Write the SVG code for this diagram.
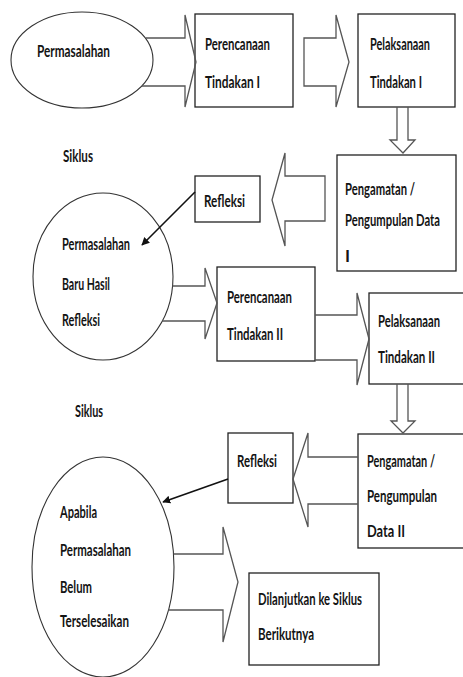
<svg xmlns="http://www.w3.org/2000/svg" width="463" height="677" viewBox="0 0 463 677">
<style>
.bg{fill:#fff}
.box{fill:#fff;stroke:#222;stroke-width:1.3}
.ell{fill:#fff;stroke:#333;stroke-width:1.1}
.blk{fill:none;stroke:#555;stroke-width:1.3;stroke-linejoin:miter}
.ln{fill:none;stroke:#111;stroke-width:1.6}
text{font-family:Lato,"Open Sans","Liberation Sans",sans-serif;font-size:17px;font-weight:700;fill:#141414}
</style>
<defs>
<marker id="ah" viewBox="0 0 10 10" refX="9" refY="5" markerWidth="5" markerHeight="5" orient="auto" markerUnits="strokeWidth">
<path d="M0,0 L10,5 L0,10 z" fill="#111"/>
</marker>
</defs>
<rect class="bg" x="0" y="0" width="463" height="677"/>

<g id="permasalahan">
<ellipse class="ell" cx="82" cy="60" rx="71" ry="48"/>
<text x="37" y="57" textLength="73" lengthAdjust="spacingAndGlyphs">Permasalahan</text>
</g>

<g id="perencanaan1">
<rect class="box" x="195" y="14" width="98" height="93"/>
<text x="205" y="50" textLength="65" lengthAdjust="spacingAndGlyphs">Perencanaan</text>
<text x="205" y="88" textLength="55" lengthAdjust="spacingAndGlyphs">Tindakan I</text>
</g>

<g id="pelaksanaan1">
<rect class="box" x="358" y="14" width="97" height="93"/>
<text x="370" y="50" textLength="60" lengthAdjust="spacingAndGlyphs">Pelaksanaan</text>
<text x="370" y="88" textLength="52" lengthAdjust="spacingAndGlyphs">Tindakan I</text>
</g>

<g id="siklus1">
<text x="63" y="162" textLength="30" lengthAdjust="spacingAndGlyphs">Siklus</text>
</g>

<g id="pengamatan1">
<rect class="box" x="337" y="155" width="119" height="116"/>
<text x="345" y="195" textLength="70" lengthAdjust="spacingAndGlyphs">Pengamatan /</text>
<text x="345" y="226" textLength="95" lengthAdjust="spacingAndGlyphs">Pengumpulan Data</text>
<text x="345" y="262">I</text>
</g>

<g id="refleksi1">
<rect class="box" x="195" y="176" width="65" height="46"/>
<text x="204" y="207" textLength="41" lengthAdjust="spacingAndGlyphs">Refleksi</text>
</g>

<g id="permasalahan-baru">
<ellipse class="ell" cx="103" cy="276.5" rx="70" ry="83.5"/>
<text x="62" y="250" textLength="68" lengthAdjust="spacingAndGlyphs">Permasalahan</text>
<text x="62" y="290" textLength="48" lengthAdjust="spacingAndGlyphs">Baru Hasil</text>
<text x="62" y="326" textLength="38" lengthAdjust="spacingAndGlyphs">Refleksi</text>
</g>

<g id="perencanaan2">
<rect class="box" x="217" y="267" width="98" height="94"/>
<text x="227" y="303" textLength="65" lengthAdjust="spacingAndGlyphs">Perencanaan</text>
<text x="227" y="340" textLength="56" lengthAdjust="spacingAndGlyphs">Tindakan II</text>
</g>

<g id="pelaksanaan2">
<rect class="box" x="369" y="293" width="100" height="91"/>
<text x="378" y="327" textLength="62" lengthAdjust="spacingAndGlyphs">Pelaksanaan</text>
<text x="378" y="363" textLength="57" lengthAdjust="spacingAndGlyphs">Tindakan II</text>
</g>

<g id="siklus2">
<text x="75" y="417" textLength="28" lengthAdjust="spacingAndGlyphs">Siklus</text>
</g>

<g id="pengamatan2">
<rect class="box" x="358" y="434" width="111" height="114"/>
<text x="367" y="467" textLength="68" lengthAdjust="spacingAndGlyphs">Pengamatan /</text>
<text x="367" y="502" textLength="70" lengthAdjust="spacingAndGlyphs">Pengumpulan</text>
<text x="367" y="537" textLength="38" lengthAdjust="spacingAndGlyphs">Data II</text>
</g>

<g id="refleksi2">
<rect class="box" x="228" y="433" width="65" height="70"/>
<text x="237" y="467" textLength="40" lengthAdjust="spacingAndGlyphs">Refleksi</text>
</g>

<g id="apabila">
<ellipse class="ell" cx="103" cy="567" rx="71" ry="110"/>
<text x="60" y="518" textLength="37" lengthAdjust="spacingAndGlyphs">Apabila</text>
<text x="60" y="556" textLength="71" lengthAdjust="spacingAndGlyphs">Permasalahan</text>
<text x="60" y="593" textLength="32" lengthAdjust="spacingAndGlyphs">Belum</text>
<text x="60" y="627" textLength="69" lengthAdjust="spacingAndGlyphs">Terselesaikan</text>
</g>

<g id="dilanjutkan">
<rect class="box" x="249" y="573" width="130" height="92"/>
<text x="258" y="605" textLength="104" lengthAdjust="spacingAndGlyphs">Dilanjutkan ke Siklus</text>
<text x="258" y="640" textLength="56" lengthAdjust="spacingAndGlyphs">Berikutnya</text>
</g>

<g id="connectors">
<path class="blk" d="M146,38 H185 V15 L196,62 L185,107 V86 H142"/>
<path class="blk" d="M304,38 H336 V15 L349,62 L336,107 V86 H304 Z"/>
<path class="blk" d="M397,107 V140 H390 L403,153 L415,140 H408 V107"/>
<path class="blk" d="M325,176 H285 V153 L272,200 L285,246 V221 H325 Z"/>
<line class="ln" x1="195" y1="192" x2="142" y2="245" marker-end="url(#ah)"/>
<path class="blk" d="M172.5,286 H205 V268 L217,303 L205,339 V321 H162"/>
<path class="blk" d="M315,315 H357 V293 L369,339 L357,385 V360 H315"/>
<path class="blk" d="M397,384 V421 H391 L403,433 L415,421 H408 V384"/>
<path class="blk" d="M358,457 H308 V433 L293,479 L308,527 V504 H358"/>
<line class="ln" x1="228" y1="479" x2="163" y2="502" marker-end="url(#ah)"/>
<path class="blk" d="M173.5,554 H223 V527 L238,582 L223,642 V610 H168"/>
</g>
</svg>
